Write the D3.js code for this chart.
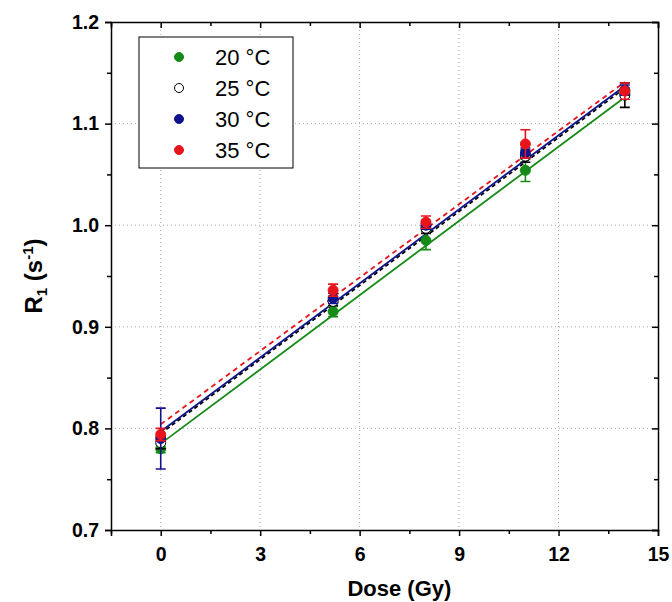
<!DOCTYPE html>
<html>
<head>
<meta charset="utf-8">
<script src="https://cdn.jsdelivr.net/npm/d3@7"></script>
<style>
  body { margin: 0; background: #fff; }
  text { font-family: Arial, "Liberation Sans", sans-serif; }
</style>
</head>
<body>
<div id="chart"></div>
<script>
  // dose points (Gy)
  const doses = [0, 5.2, 8, 11, 14];
  const labels = ["20 °C", "25 °C", "30 °C", "35 °C"];

  // R1 values per temperature
  const r20 = [0.780, 0.915, 0.985, 1.054, 1.130];
  const r25 = [0.786, 0.925, 0.997, 1.068, 1.128];
  const r30 = [0.790, 0.928, 1.000, 1.071, 1.133];
  const r35 = [0.794, 0.936, 1.003, 1.080, 1.132];

  // error bar half-widths
  const e20 = [0.004, 0.005, 0.009, 0.011, 0.004];
  const e25 = [0.006, 0.004, 0.005, 0.006, 0.012];
  const e30 = [0.030, 0.005, 0.004, 0.005, 0.005];
  const e35 = [0.006, 0.006, 0.006, 0.014, 0.008];

  // linear fits, value at dose 0 and at dose 14
  const fitDoses = [0, 14];
  const fit20 = [0.785, 1.126];
  const fit25 = [0.795, 1.135];
  const fit30 = [0.797, 1.137];
  const fit35 = [0.804, 1.141];

  const xTicks = [0, 3, 6, 9, 12, 15];
  const yTicks = [0.7, 0.8, 0.9, 1.0, 1.1, 1.2];

  const series = [
    { name: labels[0], r: r20, e: e20, fit: fit20, color: "#168a16", fill: "#168a16", dash: null },
    { name: labels[1], r: r25, e: e25, fit: fit25, color: "#000", fill: "#fff", dash: "4,3" },
    { name: labels[2], r: r30, e: e30, fit: fit30, color: "#10148c", fill: "#10148c", dash: null },
    { name: labels[3], r: r35, e: e35, fit: fit35, color: "#e8141c", fill: "#e8141c", dash: "5,4" },
  ];

  const W = 672, H = 602;
  const margin = { top: 22, right: 14, bottom: 72, left: 111 };
  const width = W - margin.left - margin.right;
  const height = H - margin.top - margin.bottom;

  const x = d3.scaleLinear().domain([-1.5, 15]).range([0, width]);
  const y = d3.scaleLinear().domain([0.7, 1.2]).range([height, 0]);

  const svg = d3.select("#chart").append("svg")
    .attr("width", W).attr("height", H)
    .append("g")
    .attr("transform", `translate(${margin.left},${margin.top})`);

  // dotted grid
  svg.append("g").selectAll("line").data(xTicks.filter(d => d < 15)).join("line")
    .attr("x1", d => x(d)).attr("x2", d => x(d))
    .attr("y1", 0).attr("y2", height)
    .attr("stroke", "#aaa").attr("stroke-width", 1).attr("stroke-dasharray", "1,3");
  svg.append("g").selectAll("line").data(yTicks.filter(d => d > 0.7 && d < 1.2)).join("line")
    .attr("x1", 0).attr("x2", width)
    .attr("y1", d => y(d)).attr("y2", d => y(d))
    .attr("stroke", "#aaa").attr("stroke-width", 1).attr("stroke-dasharray", "1,3");

  const xMinor = [-1.5, 1.5, 4.5, 7.5, 10.5, 13.5];
  const yMinor = [0.75, 0.85, 0.95, 1.05, 1.15];

  function styleAxis(g) {
    g.select(".domain").attr("stroke", "#000").attr("stroke-width", 1.5);
    g.selectAll(".tick line").attr("stroke", "#000").attr("stroke-width", 1.5);
  }

  // bottom
  const gx = svg.append("g").attr("transform", `translate(0,${height})`)
    .call(d3.axisBottom(x).tickValues(xTicks).tickSize(6).tickPadding(11).tickFormat(d3.format("d")));
  styleAxis(gx);
  gx.selectAll("text").attr("font-size", 19.5).attr("font-weight", "bold").attr("fill", "#000");
  svg.append("g").attr("transform", `translate(0,${height})`)
    .call(d3.axisBottom(x).tickValues(xMinor).tickSize(4).tickFormat(""))
    .call(styleAxis).select(".domain").remove();

  // top
  svg.append("g").call(d3.axisBottom(x).tickValues(xTicks).tickSize(6).tickFormat("")).call(styleAxis);
  svg.append("g").call(d3.axisBottom(x).tickValues(xMinor).tickSize(4).tickFormat(""))
    .call(styleAxis).select(".domain").remove();

  // left
  const gy = svg.append("g")
    .call(d3.axisLeft(y).tickValues(yTicks).tickSize(6).tickPadding(6).tickFormat(d3.format(".1f")));
  styleAxis(gy);
  gy.selectAll("text").attr("font-size", 19.5).attr("font-weight", "bold").attr("fill", "#000");
  svg.append("g").call(d3.axisLeft(y).tickValues(yMinor).tickSize(4).tickFormat(""))
    .call(styleAxis).select(".domain").remove();

  // right
  svg.append("g").attr("transform", `translate(${width},0)`)
    .call(d3.axisLeft(y).tickValues(yTicks).tickSize(6).tickFormat("")).call(styleAxis);
  svg.append("g").attr("transform", `translate(${width},0)`)
    .call(d3.axisLeft(y).tickValues(yMinor).tickSize(4).tickFormat(""))
    .call(styleAxis).select(".domain").remove();

  // fit lines
  const line = d3.line().x(d => x(d[0])).y(d => y(d[1]));
  series.forEach(s => {
    svg.append("path")
      .datum(fitDoses.map((d, i) => [d, s.fit[i]]))
      .attr("d", line)
      .attr("fill", "none")
      .attr("stroke", s.color)
      .attr("stroke-width", 1.8)
      .attr("stroke-dasharray", s.dash);
  });

  // error bars and markers
  const cap = 5;
  series.forEach(s => {
    const g = svg.append("g");
    const pts = doses.map((d, i) => ({ x: d, r: s.r[i], e: s.e[i] }));
    g.selectAll(".eb").data(pts).join("path")
      .attr("d", d => `M${x(d.x)},${y(d.r - d.e)}V${y(d.r + d.e)}` +
        `M${x(d.x) - cap},${y(d.r - d.e)}h${2 * cap}` +
        `M${x(d.x) - cap},${y(d.r + d.e)}h${2 * cap}`)
      .attr("stroke", s.color).attr("stroke-width", 1.6).attr("fill", "none");
    g.selectAll("circle").data(pts).join("circle")
      .attr("cx", d => x(d.x)).attr("cy", d => y(d.r))
      .attr("r", 5)
      .attr("fill", s.fill)
      .attr("stroke", s.color).attr("stroke-width", 1);
  });

  // legend
  const legend = svg.append("g").attr("transform", `translate(${139 - margin.left},${37 - margin.top})`);
  legend.append("rect").attr("width", 154).attr("height", 131)
    .attr("fill", "#fff").attr("stroke", "#000").attr("stroke-width", 1);
  series.forEach((s, i) => {
    const ly = 20 + i * 31;
    legend.append("circle").attr("cx", 40).attr("cy", ly).attr("r", 4.5)
      .attr("fill", s.fill).attr("stroke", s.color).attr("stroke-width", 1);
    legend.append("text").attr("x", 76).attr("y", ly).attr("dy", "0.35em")
      .attr("font-size", 22).attr("fill", "#000").text(s.name);
  });

  // axis titles
  svg.append("text")
    .attr("x", x(7.2)).attr("y", height + 66)
    .attr("text-anchor", "middle").attr("font-size", 22).attr("font-weight", "bold")
    .text("Dose (Gy)");

  const yt = svg.append("text")
    .attr("transform", `translate(${42 - margin.left},${height / 2}) rotate(-90)`)
    .attr("text-anchor", "middle").attr("font-size", 24).attr("font-weight", "bold");
  yt.append("tspan").text("R");
  yt.append("tspan").attr("font-size", 15).attr("dy", 5).text("1");
  yt.append("tspan").attr("dy", -5).text(" (s");
  yt.append("tspan").attr("font-size", 15).attr("dy", -9).text("-1");
  yt.append("tspan").attr("dy", 9).text(")");
</script>
</body>
</html>
